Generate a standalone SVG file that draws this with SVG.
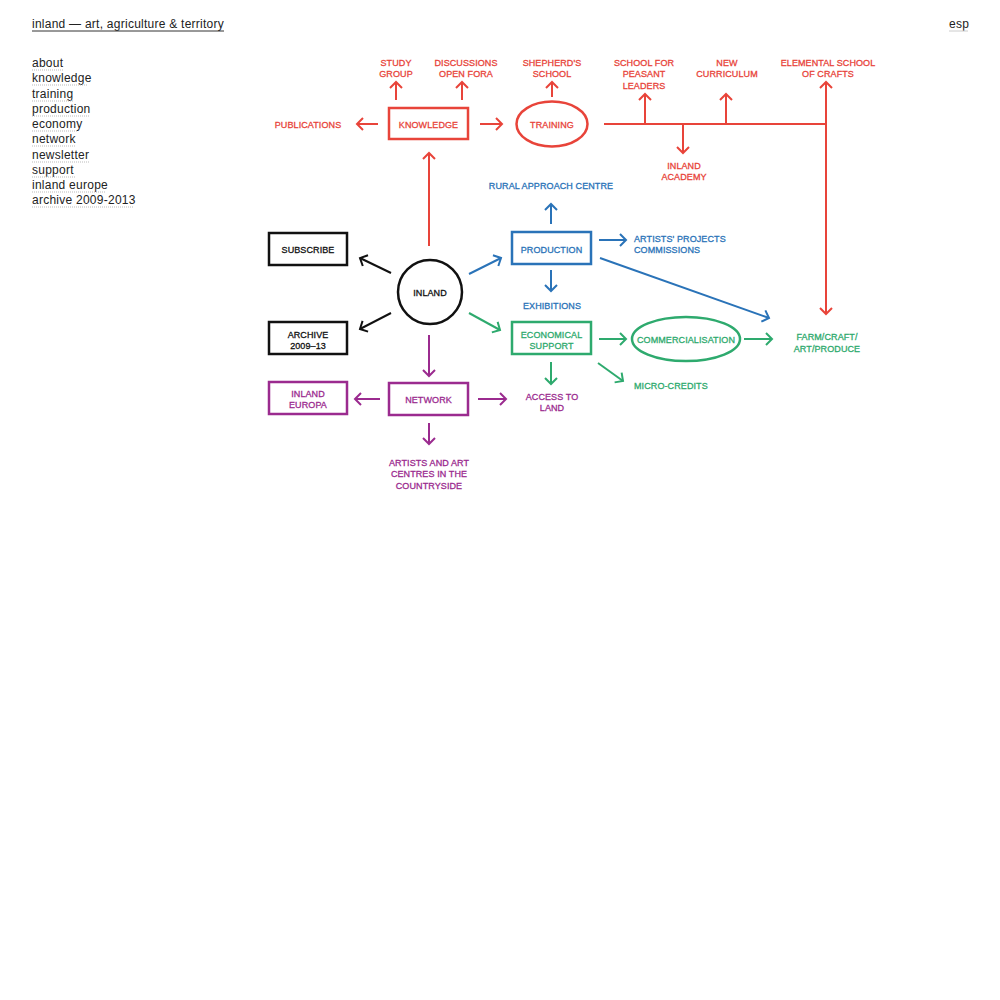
<svg xmlns="http://www.w3.org/2000/svg" width="1000" height="1000" viewBox="0 0 1000 1000">
<style>
.menu{font-family:"Liberation Sans",Arial,sans-serif;font-size:12px;fill:#222;letter-spacing:0.25px}
.ul{stroke:#bbb;stroke-width:1;stroke-dasharray:1 1}
.lbl{font-family:"Liberation Sans",Arial,sans-serif;font-size:9px;text-anchor:middle;stroke-width:0.3px;letter-spacing:0.1px}
.lft{text-anchor:start}
.r{fill:#e8443a;stroke:#e8443a}.b{fill:#2a73b8;stroke:#2a73b8}.g{fill:#2eaa6e;stroke:#2eaa6e}.p{fill:#9b2b8f;stroke:#9b2b8f}.k{fill:#111;stroke:#111}
.box{fill:none;stroke-width:2.5}
.cr{stroke:#e8443a;fill:none;stroke-width:2}
.cb{stroke:#2a73b8;fill:none;stroke-width:2}
.cg{stroke:#2eaa6e;fill:none;stroke-width:2}
.cp{stroke:#9b2b8f;fill:none;stroke-width:2}
.ck{stroke:#111;fill:none;stroke-width:2}
</style>
<defs>
<marker id="ar" viewBox="-8 -8 16 16" refX="0" refY="0" markerWidth="16" markerHeight="16" markerUnits="userSpaceOnUse" orient="auto"><path d="M-6,-6 L0,0 L-6,6" fill="none" stroke="#e8443a" stroke-width="2"/></marker>
<marker id="ab" viewBox="-8 -8 16 16" refX="0" refY="0" markerWidth="16" markerHeight="16" markerUnits="userSpaceOnUse" orient="auto"><path d="M-6,-6 L0,0 L-6,6" fill="none" stroke="#2a73b8" stroke-width="2"/></marker>
<marker id="ag" viewBox="-8 -8 16 16" refX="0" refY="0" markerWidth="16" markerHeight="16" markerUnits="userSpaceOnUse" orient="auto"><path d="M-6,-6 L0,0 L-6,6" fill="none" stroke="#2eaa6e" stroke-width="2"/></marker>
<marker id="ap" viewBox="-8 -8 16 16" refX="0" refY="0" markerWidth="16" markerHeight="16" markerUnits="userSpaceOnUse" orient="auto"><path d="M-6,-6 L0,0 L-6,6" fill="none" stroke="#9b2b8f" stroke-width="2"/></marker>
<marker id="ak" viewBox="-8 -8 16 16" refX="0" refY="0" markerWidth="16" markerHeight="16" markerUnits="userSpaceOnUse" orient="auto"><path d="M-6,-6 L0,0 L-6,6" fill="none" stroke="#111" stroke-width="2"/></marker>
</defs>
<rect width="1000" height="1000" fill="#fff"/>

<g id="header">
<text class="menu" x="32" y="28">inland — art, agriculture &amp; territory</text>
<line x1="32" y1="31" x2="224" y2="31" stroke="#333" stroke-width="1"/>
<text class="menu" x="949" y="28">esp</text>
<line x1="949" y1="31" x2="968" y2="31" stroke="#ccc" stroke-width="1"/>
</g>
<g id="menu">
<text class="menu" x="32" y="67">about</text><line class="ul" x1="32" y1="70" x2="63" y2="70"/>
<text class="menu" x="32" y="82">knowledge</text><line class="ul" x1="32" y1="85" x2="88" y2="85"/>
<text class="menu" x="32" y="98">training</text><line class="ul" x1="32" y1="101" x2="74" y2="101"/>
<text class="menu" x="32" y="113">production</text><line class="ul" x1="32" y1="116" x2="90" y2="116"/>
<text class="menu" x="32" y="128">economy</text><line class="ul" x1="32" y1="131" x2="78" y2="131"/>
<text class="menu" x="32" y="143">network</text><line class="ul" x1="32" y1="146" x2="75" y2="146"/>
<text class="menu" x="32" y="159">newsletter</text><line class="ul" x1="32" y1="162" x2="89" y2="162"/>
<text class="menu" x="32" y="174">support</text><line class="ul" x1="32" y1="177" x2="75" y2="177"/>
<text class="menu" x="32" y="189">inland europe</text><line class="ul" x1="32" y1="192" x2="105" y2="192"/>
<text class="menu" x="32" y="204">archive 2009-2013</text><line class="ul" x1="32" y1="207" x2="134" y2="207"/>
</g>

<g id="connectors">
<line class="cr" x1="429" y1="246" x2="429" y2="153" marker-end="url(#ar)"/>
<line class="cr" x1="378" y1="124" x2="357" y2="124" marker-end="url(#ar)"/>
<line class="cr" x1="480" y1="124" x2="502" y2="124" marker-end="url(#ar)"/>
<line class="cr" x1="396" y1="100" x2="396" y2="82" marker-end="url(#ar)"/>
<line class="cr" x1="462" y1="100" x2="462" y2="82" marker-end="url(#ar)"/>
<line class="cr" x1="552" y1="97" x2="552" y2="82" marker-end="url(#ar)"/>
<line class="cr" x1="604" y1="124" x2="827" y2="124"/>
<line class="cr" x1="645" y1="124" x2="645" y2="94" marker-end="url(#ar)"/>
<line class="cr" x1="683" y1="124" x2="683" y2="153" marker-end="url(#ar)"/>
<line class="cr" x1="726" y1="124" x2="726" y2="94" marker-end="url(#ar)"/>
<line class="cr" x1="826" y1="124" x2="826" y2="82" marker-end="url(#ar)"/>
<line class="cr" x1="826" y1="124" x2="826" y2="314" marker-end="url(#ar)"/>

<line class="cb" x1="469" y1="274" x2="501" y2="258" marker-end="url(#ab)"/>
<line class="cb" x1="551" y1="224" x2="551" y2="204" marker-end="url(#ab)"/>
<line class="cb" x1="599" y1="240" x2="626" y2="240" marker-end="url(#ab)"/>
<line class="cb" x1="551" y1="270" x2="551" y2="291" marker-end="url(#ab)"/>
<line class="cb" x1="600" y1="258" x2="769" y2="318" marker-end="url(#ab)"/>

<line class="cg" x1="469" y1="313" x2="500" y2="330" marker-end="url(#ag)"/>
<line class="cg" x1="599" y1="339" x2="626" y2="339" marker-end="url(#ag)"/>
<line class="cg" x1="744" y1="339" x2="772" y2="339" marker-end="url(#ag)"/>
<line class="cg" x1="551" y1="362" x2="551" y2="384" marker-end="url(#ag)"/>
<line class="cg" x1="598" y1="363" x2="623" y2="381" marker-end="url(#ag)"/>

<line class="cp" x1="429" y1="335" x2="429" y2="376" marker-end="url(#ap)"/>
<line class="cp" x1="380" y1="399" x2="355" y2="399" marker-end="url(#ap)"/>
<line class="cp" x1="478" y1="399" x2="506" y2="399" marker-end="url(#ap)"/>
<line class="cp" x1="429" y1="423" x2="429" y2="444" marker-end="url(#ap)"/>

<line class="ck" x1="391" y1="273" x2="360" y2="258" marker-end="url(#ak)"/>
<line class="ck" x1="391" y1="313" x2="360" y2="329" marker-end="url(#ak)"/>
</g>

<g id="inland"><circle cx="430" cy="292" r="32" fill="none" stroke="#111" stroke-width="2.5"/><text class="lbl k" x="430" y="295.5">INLAND</text></g>
<g id="knowledge"><rect class="box" x="389" y="108" width="79" height="31" stroke="#e8443a"/><text class="lbl r" x="428.5" y="127.5">KNOWLEDGE</text></g>
<g id="training"><ellipse cx="552" cy="124" rx="35.5" ry="22.5" fill="none" stroke="#e8443a" stroke-width="2.5"/><text class="lbl r" x="552" y="127.5">TRAINING</text></g>
<g id="publications"><text class="lbl r" x="308" y="127.5">PUBLICATIONS</text></g>
<g id="study-group"><text class="lbl r" x="396" y="65.5">STUDY</text><text class="lbl r" x="396" y="77">GROUP</text></g>
<g id="discussions"><text class="lbl r" x="466" y="65.5">DISCUSSIONS</text><text class="lbl r" x="466" y="77">OPEN FORA</text></g>
<g id="shepherds"><text class="lbl r" x="552" y="65.5">SHEPHERD'S</text><text class="lbl r" x="552" y="77">SCHOOL</text></g>
<g id="peasant"><text class="lbl r" x="644" y="65.5">SCHOOL FOR</text><text class="lbl r" x="644" y="77">PEASANT</text><text class="lbl r" x="644" y="88.5">LEADERS</text></g>
<g id="curriculum"><text class="lbl r" x="727" y="65.5">NEW</text><text class="lbl r" x="727" y="77">CURRICULUM</text></g>
<g id="elemental"><text class="lbl r" x="828" y="65.5">ELEMENTAL SCHOOL</text><text class="lbl r" x="828" y="77">OF CRAFTS</text></g>
<g id="academy"><text class="lbl r" x="684" y="168.5">INLAND</text><text class="lbl r" x="684" y="180">ACADEMY</text></g>

<g id="rural"><text class="lbl b" x="551" y="188.5">RURAL APPROACH CENTRE</text></g>
<g id="production"><rect class="box" x="512" y="232" width="79" height="32" stroke="#2a73b8"/><text class="lbl b" x="551.5" y="252.5">PRODUCTION</text></g>
<g id="artists-projects"><text class="lbl b lft" x="634" y="241.5">ARTISTS' PROJECTS</text><text class="lbl b lft" x="634" y="253">COMMISSIONS</text></g>
<g id="exhibitions"><text class="lbl b" x="552" y="308.5">EXHIBITIONS</text></g>

<g id="subscribe"><rect class="box" x="269" y="233" width="78" height="32" stroke="#111"/><text class="lbl k" x="308" y="252.5">SUBSCRIBE</text></g>
<g id="archive"><rect class="box" x="269" y="322" width="78" height="32" stroke="#111"/><text class="lbl k" x="308" y="337.5">ARCHIVE</text><text class="lbl k" x="308" y="349">2009–13</text></g>

<g id="economical"><rect class="box" x="512" y="322" width="79" height="32" stroke="#2eaa6e"/><text class="lbl g" x="551.5" y="337.5">ECONOMICAL</text><text class="lbl g" x="551.5" y="349">SUPPORT</text></g>
<g id="commercialisation"><ellipse cx="686" cy="339" rx="54" ry="22" fill="none" stroke="#2eaa6e" stroke-width="2.5"/><text class="lbl g" x="686" y="342.5">COMMERCIALISATION</text></g>
<g id="farm"><text class="lbl g" x="827" y="340">FARM/CRAFT/</text><text class="lbl g" x="827" y="351.5">ART/PRODUCE</text></g>
<g id="micro"><text class="lbl g lft" x="634" y="388.5">MICRO-CREDITS</text></g>
<g id="access"><text class="lbl p" x="552" y="399.5">ACCESS TO</text><text class="lbl p" x="552" y="411">LAND</text></g>

<g id="network"><rect class="box" x="389" y="383" width="79" height="32" stroke="#9b2b8f"/><text class="lbl p" x="428.5" y="402.5">NETWORK</text></g>
<g id="inland-europa"><rect class="box" x="269" y="382" width="78" height="32" stroke="#9b2b8f"/><text class="lbl p" x="308" y="396.5">INLAND</text><text class="lbl p" x="308" y="408">EUROPA</text></g>
<g id="countryside"><text class="lbl p" x="429" y="465.5">ARTISTS AND ART</text><text class="lbl p" x="429" y="477">CENTRES IN THE</text><text class="lbl p" x="429" y="488.5">COUNTRYSIDE</text></g>
</svg>
